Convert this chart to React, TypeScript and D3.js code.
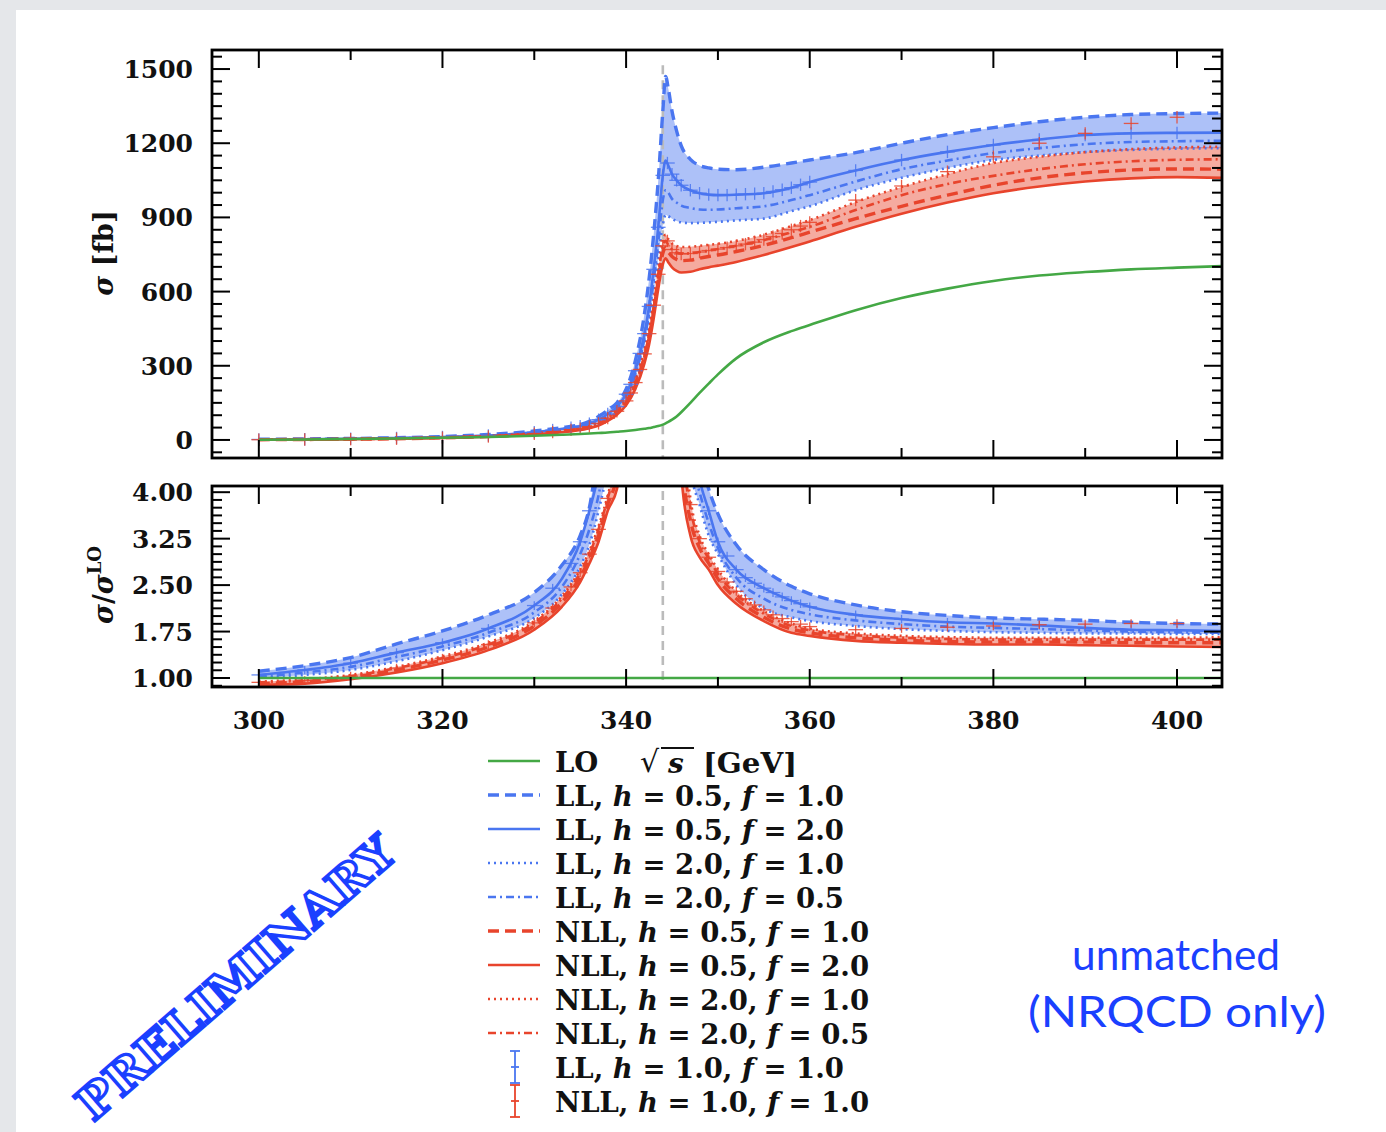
import React from 'react';
import * as d3 from 'd3';

// ---------------- data ----------------
const E = [300, 305, 310, 315, 320, 325, 330, 333, 335, 336, 337, 338, 339, 340, 341, 342, 342.5, 343, 343.5, 344, 344.3, 344.6, 345, 345.5, 346, 347, 348, 349, 350, 352, 355, 358, 360, 365, 370, 375, 380, 385, 390, 395, 400, 405];

const LO = [1, 2, 4, 6, 9, 12, 17, 21, 24, 26, 28, 30, 33, 36, 40, 45, 48, 52, 56, 62, 67, 73, 82, 95, 112, 150, 190, 228, 265, 330, 395, 440, 465, 525, 574, 612, 643, 665, 679, 690, 697, 703];

const LL_h05_f10 = [3, 4, 6, 9, 14, 22, 36, 50, 62, 75, 95, 120, 150, 205, 320, 510, 650, 830, 1050, 1330, 1470, 1420, 1330, 1250, 1190, 1135, 1110, 1100, 1095, 1093, 1103, 1120, 1132, 1162, 1200, 1235, 1263, 1287, 1305, 1316, 1320, 1322];
const LL_h05_f20 = [2, 3, 5, 8, 12, 18, 31, 44, 55, 66, 82, 105, 135, 185, 280, 430, 540, 690, 860, 1070, 1130, 1110, 1075, 1050, 1030, 1010, 998, 992, 990, 992, 998, 1020, 1043, 1090, 1132, 1165, 1193, 1215, 1233, 1240, 1242, 1243];
const LL_h20_f10 = [2, 3, 4, 7, 10, 15, 27, 39, 49, 58, 72, 93, 120, 165, 250, 385, 480, 600, 740, 870, 910, 905, 895, 885, 880, 877, 878, 880, 882, 888, 895, 925, 945, 1010, 1060, 1100, 1132, 1150, 1164, 1173, 1178, 1180];
const LL_h20_f05 = [2, 3, 5, 7, 11, 17, 29, 42, 52, 62, 77, 99, 128, 175, 265, 410, 510, 645, 800, 970, 1010, 1000, 975, 960, 948, 938, 932, 931, 932, 937, 945, 970, 990, 1045, 1095, 1130, 1160, 1180, 1196, 1205, 1208, 1210];

const NLL_h05_f10 = [1, 2, 3, 5, 9, 14, 24, 34, 43, 51, 63, 83, 110, 150, 220, 332, 410, 520, 645, 755, 778, 760, 742, 730, 725, 727, 735, 742, 748, 762, 787, 818, 840, 895, 945, 990, 1030, 1060, 1080, 1092, 1096, 1095];
const NLL_h05_f20 = [1, 1, 3, 5, 8, 13, 22, 31, 40, 47, 58, 77, 102, 140, 205, 310, 385, 490, 610, 710, 735, 718, 698, 684, 677, 680, 690, 698, 705, 720, 748, 780, 803, 862, 915, 960, 998, 1025, 1045, 1058, 1063, 1060];
const NLL_h20_f10 = [1, 2, 4, 6, 10, 16, 27, 38, 48, 56, 70, 92, 122, 165, 240, 360, 440, 560, 690, 810, 830, 812, 795, 785, 780, 781, 785, 789, 793, 805, 830, 865, 889, 962, 1023, 1075, 1120, 1145, 1164, 1176, 1183, 1186];
const NLL_h20_f05 = [1, 2, 3, 6, 9, 15, 25, 36, 45, 53, 66, 87, 116, 157, 230, 345, 425, 540, 668, 782, 805, 788, 770, 758, 753, 755, 760, 766, 772, 785, 808, 840, 862, 930, 990, 1035, 1068, 1095, 1115, 1127, 1133, 1135];

// ratios sigma / sigma^LO (lower panel)
const R_LO = E.map(() => 1);
const R_LL_h05_f10 = [1.11, 1.2, 1.33, 1.55, 1.76, 2.02, 2.38, 2.82, 3.3, 3.75, 4.7, 5.6, 6.8, 8.5, 11, 14, 16, 18, 20, 22, 23, 21, 18, 15, 11, 6, 4.6, 4.05, 3.65, 3.15, 2.75, 2.48, 2.36, 2.18, 2.07, 2.01, 1.97, 1.95, 1.93, 1.9, 1.88, 1.87];
const R_LL_h05_f20 = [1.05, 1.13, 1.24, 1.41, 1.57, 1.8, 2.17, 2.6, 3.2, 3.7, 4.3, 5.2, 6.3, 8, 10, 13, 15, 17, 19, 21, 22, 20, 17, 14, 10, 5, 4.2, 3.7, 3.2, 2.75, 2.45, 2.25, 2.15, 2.02, 1.95, 1.9, 1.88, 1.85, 1.81, 1.78, 1.77, 1.76];
const R_LL_h20_f10 = [1.0, 1.05, 1.13, 1.27, 1.45, 1.67, 1.97, 2.35, 2.8, 3.15, 3.7, 4.4, 5.5, 7, 9, 12, 14, 16, 18, 19, 20, 18, 15, 12, 8, 4.4, 3.8, 3.3, 3.0, 2.5, 2.12, 1.98, 1.92, 1.84, 1.79, 1.76, 1.74, 1.73, 1.72, 1.72, 1.71, 1.71];
const R_LL_h20_f05 = [1.02, 1.09, 1.18, 1.34, 1.51, 1.73, 2.06, 2.47, 3.0, 3.4, 3.95, 4.8, 5.9, 7.5, 9.5, 12.5, 14.5, 16.5, 18.5, 20, 21, 19, 16, 13, 9, 4.6, 4.0, 3.5, 3.1, 2.62, 2.28, 2.1, 2.03, 1.93, 1.87, 1.83, 1.81, 1.79, 1.77, 1.75, 1.74, 1.73];
const R_NLL_h05_f10 = [0.91, 0.94, 1.01, 1.13, 1.29, 1.5, 1.84, 2.22, 2.63, 2.93, 3.3, 3.8, 4.25, 5.3, 7, 9.5, 11, 13, 15, 16, 17, 15, 12, 8, 4.6, 3.55, 3.1, 2.85, 2.6, 2.28, 1.98, 1.79, 1.73, 1.65, 1.61, 1.59, 1.58, 1.58, 1.58, 1.57, 1.57, 1.57];
const R_NLL_h05_f20 = [0.89, 0.91, 0.98, 1.09, 1.24, 1.45, 1.78, 2.15, 2.55, 2.85, 3.2, 3.7, 4.05, 5, 6.5, 9, 10, 12, 14, 15, 16, 14, 11, 7, 4.3, 3.3, 2.95, 2.75, 2.5, 2.2, 1.92, 1.73, 1.68, 1.6, 1.57, 1.55, 1.54, 1.54, 1.53, 1.52, 1.51, 1.5];
const R_NLL_h20_f10 = [0.94, 0.98, 1.05, 1.18, 1.35, 1.57, 1.92, 2.32, 2.75, 3.05, 3.45, 3.95, 4.6, 6, 8, 10, 12, 14, 16, 17, 18, 16, 13, 9, 5.5, 3.9, 3.3, 3.0, 2.75, 2.4, 2.08, 1.88, 1.8, 1.72, 1.68, 1.66, 1.65, 1.65, 1.65, 1.65, 1.65, 1.66];
const R_NLL_h20_f05 = [0.93, 0.96, 1.03, 1.16, 1.32, 1.54, 1.89, 2.28, 2.7, 3.0, 3.4, 3.9, 4.5, 5.7, 7.5, 10, 11.5, 13.5, 15.5, 16.5, 17.5, 15.5, 12.5, 8.5, 5, 3.75, 3.2, 2.93, 2.68, 2.35, 2.04, 1.84, 1.77, 1.69, 1.65, 1.63, 1.62, 1.62, 1.62, 1.62, 1.62, 1.62];

// points with error bars (h = 1.0, f = 1.0)
const CE = [300, 305, 310, 315, 320, 325, 330, 332, 334, 335, 336, 337, 338, 339, 340, 340.5, 341, 341.5, 342, 342.5, 343, 343.5, 344, 344.5, 345, 345.5, 346, 347, 348, 349, 350, 351, 352, 353, 354, 355, 356, 357, 358, 359, 360, 365, 370, 375, 380, 385, 390, 395, 400];
const LL_pts = [2, 3, 5, 8, 12, 18, 31, 40, 50, 56, 66, 82, 105, 135, 185, 225, 280, 350, 430, 540, 690, 860, 1070, 1120, 1075, 1050, 1030, 1010, 998, 992, 990, 990, 992, 994, 996, 998, 1005, 1012, 1020, 1032, 1043, 1090, 1132, 1165, 1193, 1215, 1233, 1240, 1242];
const NLL_pts = [1, 2, 3, 5, 9, 14, 25, 32, 41, 46, 54, 67, 88, 116, 158, 190, 232, 285, 348, 430, 545, 670, 785, 805, 770, 757, 752, 754, 760, 766, 772, 778, 785, 792, 800, 810, 822, 835, 850, 865, 880, 970, 1027, 1085, 1145, 1200, 1240, 1280, 1305];
const R_LL_pts = [1.05, 1.13, 1.24, 1.41, 1.57, 1.8, 2.17, 2.45, 2.85, 3.2, 3.7, 4.3, 5.2, 6.3, 8, 9, 10, 11.5, 13, 15, 17, 19, 21, 22, 17, 14, 10, 5, 4.2, 3.7, 3.2, 2.97, 2.75, 2.62, 2.53, 2.45, 2.38, 2.31, 2.25, 2.2, 2.15, 2.02, 1.95, 1.9, 1.88, 1.85, 1.81, 1.78, 1.77];
const R_NLL_pts = [0.93, 0.96, 1.03, 1.16, 1.32, 1.54, 1.89, 2.13, 2.47, 2.7, 3.0, 3.4, 3.9, 4.5, 5.7, 6.5, 7.5, 9, 10, 11.5, 13.5, 15.5, 16.5, 17, 12.5, 8.5, 5, 3.8, 3.25, 2.95, 2.72, 2.55, 2.4, 2.28, 2.18, 2.1, 2.02, 1.96, 1.91, 1.87, 1.83, 1.78, 1.8, 1.82, 1.84, 1.86, 1.87, 1.88, 1.88];
const ERR_X = 0.8; // GeV
const ERR_Y_TOP = 25; // fb
const ERR_Y_BOT = 0.07;

const THRESHOLD = 344;

// axes
const xMajor = [300, 320, 340, 360, 380, 400];
const xMinor = [310, 330, 350, 370, 390];
const yTopMajor = [0, 300, 600, 900, 1200, 1500];
const yBotMajor = [1.0, 1.75, 2.5, 3.25, 4.0];

// legend
const legendOrder = ['LO', 'LL', 'LL', 'LL', 'LL', 'NLL', 'NLL', 'NLL', 'NLL', 'LL', 'NLL'];
const legendH = ['', '0.5', '0.5', '2.0', '2.0', '0.5', '0.5', '2.0', '2.0', '1.0', '1.0'];
const legendF = ['', '1.0', '2.0', '1.0', '0.5', '1.0', '2.0', '1.0', '0.5', '1.0', '1.0'];
const legendStyle = ['solid', 'dashed', 'solid', 'dotted', 'dashdot', 'dashed', 'solid', 'dotted', 'dashdot', 'err', 'err'];

// ---------------- styling ----------------
const W = 1386, H = 1132;
const PX0 = 212, PX1 = 1222;
const T0 = 50, T1 = 458;
const B0 = 486, B1 = 687;
const BLUE = '#4a76f0';
const RED = '#e8442c';
const GREEN = '#44a845';
const TXT_BLUE = '#1a40ff';
const SERIF = '"DejaVu Serif", serif';

const DASH: Record<string, string | undefined> = {
  solid: undefined,
  dashed: '11,6',
  dotted: '2,4',
  dashdot: '8,4,2,4',
};
const WIDTH: Record<string, number> = { solid: 2.6, dashed: 3.4, dotted: 2.6, dashdot: 2.6 };

export default function App() {
  const x = d3.scaleLinear().domain([294.9, 404.9]).range([PX0, PX1]);
  const yT = d3.scaleLinear().domain([-73, 1577]).range([T1, T0]);
  const yB = d3.scaleLinear().domain([0.855, 4.1]).range([B1, B0]);

  const mkLine = (y: d3.ScaleLinear<number, number>, arr: number[]) =>
    d3.line<number>().x((_, i) => x(E[i])).y((d) => y(d)).curve(d3.curveMonotoneX)(arr) || '';

  const mkBand = (y: d3.ScaleLinear<number, number>, series: number[][]) =>
    d3
      .area<number>()
      .x((i) => x(E[i]))
      .y0((i) => y(d3.min(series, (s) => s[i]) as number))
      .y1((i) => y(d3.max(series, (s) => s[i]) as number))
      .curve(d3.curveMonotoneX)(d3.range(E.length)) || '';

  const LLtop = [LL_h05_f10, LL_h05_f20, LL_h20_f10, LL_h20_f05];
  const NLLtop = [NLL_h05_f10, NLL_h05_f20, NLL_h20_f10, NLL_h20_f05];
  const LLbot = [R_LL_h05_f10, R_LL_h05_f20, R_LL_h20_f10, R_LL_h20_f05];
  const NLLbot = [R_NLL_h05_f10, R_NLL_h05_f20, R_NLL_h20_f10, R_NLL_h20_f05];
  const styles = ['dashed', 'solid', 'dotted', 'dashdot'];

  const panel = (
    id: string,
    y: d3.ScaleLinear<number, number>,
    ll: number[][],
    nll: number[][],
    lo: number[],
    llPts: number[],
    nllPts: number[],
    errY: number,
    vlineTop: number,
    vlineBot: number
  ) => (
    <g clipPath={`url(#${id})`}>
      <path d={mkBand(y, ll)} fill={BLUE} fillOpacity={0.45} />
      <path d={mkBand(y, nll)} fill={RED} fillOpacity={0.45} />
      <line
        x1={x(THRESHOLD)}
        x2={x(THRESHOLD)}
        y1={y(vlineTop)}
        y2={y(vlineBot)}
        stroke="#bbbbbb"
        strokeWidth={2.6}
        strokeDasharray="9,6"
      />
      {ll.map((s, k) => (
        <path
          key={'ll' + k}
          d={mkLine(y, s)}
          fill="none"
          stroke={BLUE}
          strokeWidth={WIDTH[styles[k]]}
          strokeDasharray={DASH[styles[k]]}
        />
      ))}
      {nll.map((s, k) => (
        <path
          key={'nll' + k}
          d={mkLine(y, s)}
          fill="none"
          stroke={RED}
          strokeWidth={WIDTH[styles[k]]}
          strokeDasharray={DASH[styles[k]]}
        />
      ))}
      {llPts.map((v, i) => (
        <g key={'lp' + i} stroke={BLUE} strokeWidth={1.3} strokeOpacity={0.85}>
          <line x1={x(CE[i] - ERR_X)} x2={x(CE[i] + ERR_X)} y1={y(v)} y2={y(v)} />
          <line x1={x(CE[i])} x2={x(CE[i])} y1={y(v - errY)} y2={y(v + errY)} />
        </g>
      ))}
      {nllPts.map((v, i) => (
        <g key={'np' + i} stroke={RED} strokeWidth={1.3} strokeOpacity={0.85}>
          <line x1={x(CE[i] - ERR_X)} x2={x(CE[i] + ERR_X)} y1={y(v)} y2={y(v)} />
          <line x1={x(CE[i])} x2={x(CE[i])} y1={y(v - errY)} y2={y(v + errY)} />
        </g>
      ))}
      <path d={mkLine(y, lo)} fill="none" stroke={GREEN} strokeWidth={2.6} />
    </g>
  );

  const frameTicks = (y: d3.ScaleLinear<number, number>, yMaj: number[], yMin: number[], p0: number, p1: number) => (
    <g stroke="#000" strokeWidth={2}>
      {xMajor.map((v) => (
        <g key={'xM' + v}>
          <line x1={x(v)} x2={x(v)} y1={p1} y2={p1 - 18} />
          <line x1={x(v)} x2={x(v)} y1={p0} y2={p0 + 18} />
        </g>
      ))}
      {xMinor.map((v) => (
        <g key={'xm' + v}>
          <line x1={x(v)} x2={x(v)} y1={p1} y2={p1 - 10} />
          <line x1={x(v)} x2={x(v)} y1={p0} y2={p0 + 10} />
        </g>
      ))}
      {yMaj.map((v) => (
        <g key={'yM' + v}>
          <line x1={PX0} x2={PX0 + 18} y1={y(v)} y2={y(v)} />
          <line x1={PX1} x2={PX1 - 18} y1={y(v)} y2={y(v)} />
        </g>
      ))}
      {yMin.map((v) => (
        <g key={'ym' + v}>
          <line x1={PX0} x2={PX0 + 10} y1={y(v)} y2={y(v)} />
          <line x1={PX1} x2={PX1 - 10} y1={y(v)} y2={y(v)} />
        </g>
      ))}
      <rect x={PX0} y={p0} width={PX1 - PX0} height={p1 - p0} fill="none" strokeWidth={2.8} />
    </g>
  );

  const yTopMinor = d3.range(-50, 1575, 50).filter((v) => v % 300 !== 0);
  const yBotMinor = d3.range(0.875, 4.09, 0.125).filter((v) => !yBotMajor.some((m) => Math.abs(m - v) < 1e-6));

  const legendY0 = 761;
  const legendDY = 34;

  const legendSample = (st: string, color: string, cy: number) => {
    if (st === 'err') {
      return (
        <g stroke={color} strokeWidth={1.8}>
          <line x1={515} x2={515} y1={cy - 16} y2={cy + 16} />
          <line x1={510} x2={520} y1={cy - 16} y2={cy - 16} />
          <line x1={510} x2={520} y1={cy + 16} y2={cy + 16} />
          <line x1={511} x2={519} y1={cy} y2={cy} />
        </g>
      );
    }
    return (
      <line x1={488} x2={540} y1={cy} y2={cy} stroke={color} strokeWidth={WIDTH[st]} strokeDasharray={DASH[st]} />
    );
  };

  return (
    <svg
      width={W}
      height={H}
      style={{ position: 'absolute', left: 0, top: 0, display: 'block' }}
      fontFamily={SERIF}
    >
      <defs>
        <clipPath id="clipTop">
          <rect x={PX0} y={T0} width={PX1 - PX0} height={T1 - T0} />
        </clipPath>
        <clipPath id="clipBot">
          <rect x={PX0} y={B0} width={PX1 - PX0} height={B1 - B0} />
        </clipPath>
      </defs>
      <rect x={0} y={0} width={W} height={H} fill="#e5e7ea" />
      <rect x={16} y={10} width={W - 16} height={H - 10} fill="#ffffff" />

      {panel('clipTop', yT, LLtop, NLLtop, LO, LL_pts, NLL_pts, ERR_Y_TOP, 1515, -73)}
      {panel('clipBot', yB, LLbot, NLLbot, R_LO, R_LL_pts, R_NLL_pts, ERR_Y_BOT, 4.02, 0.86)}

      {frameTicks(yT, yTopMajor, yTopMinor, T0, T1)}
      {frameTicks(yB, yBotMajor, yBotMinor, B0, B1)}

      {/* tick labels */}
      <g fontWeight="bold" fontSize={25} fill="#111">
        {yTopMajor.map((v) => (
          <text key={'lt' + v} x={193} y={yT(v) + 9} textAnchor="end">
            {v}
          </text>
        ))}
        {yBotMajor.map((v) => (
          <text key={'lb' + v} x={193} y={yB(v) + 9} textAnchor="end">
            {v.toFixed(2)}
          </text>
        ))}
        {xMajor.map((v) => (
          <text key={'lx' + v} x={x(v)} y={729} textAnchor="middle">
            {v}
          </text>
        ))}
      </g>

      {/* axis titles */}
      <text transform="translate(113,253) rotate(-90)" textAnchor="middle" fontWeight="bold" fontSize={27} fill="#111">
        <tspan fontStyle="italic">σ</tspan>
        <tspan> [fb]</tspan>
      </text>
      <text transform="translate(113,585) rotate(-90)" textAnchor="middle" fontWeight="bold" fontSize={27} fill="#111">
        <tspan fontStyle="italic">σ</tspan>
        <tspan>/</tspan>
        <tspan fontStyle="italic">σ</tspan>
        <tspan dy={-12} fontSize={18}>LO</tspan>
      </text>

      {/* x title */}
      <g fontWeight="bold" fill="#111">
        <text x={640} y={772} fontSize={30} fontWeight="normal">√</text>
        <line x1={661} x2={694} y1={748} y2={748} stroke="#111" strokeWidth={2} />
        <text x={668} y={773} fontSize={28} fontStyle="italic">s</text>
        <text x={703} y={773} fontSize={28} textLength={94} lengthAdjust="spacingAndGlyphs">[GeV]</text>
      </g>

      {/* legend */}
      <g fontWeight="bold" fontSize={27.5} fill="#111" style={{ whiteSpace: 'pre' }}>
        {legendOrder.map((name, i) => {
          const cy = legendY0 + i * legendDY;
          const color = i === 0 ? GREEN : name === 'LL' ? BLUE : RED;
          return (
            <g key={'lg' + i}>
              {legendSample(legendStyle[i], color, cy)}
              <text x={555} y={cy + 11}>
                {i === 0 ? (
                  <tspan>{name}</tspan>
                ) : (
                  <>
                    <tspan>{name + ', '}</tspan>
                    <tspan fontStyle="italic">h</tspan>
                    <tspan>{' = ' + legendH[i] + ', '}</tspan>
                    <tspan fontStyle="italic">f</tspan>
                    <tspan>{' = ' + legendF[i]}</tspan>
                  </>
                )}
              </text>
            </g>
          );
        })}
      </g>

      {/* annotations */}
      <text
        transform="translate(236,978) rotate(-41)"
        textAnchor="middle"
        dominantBaseline="central"
        fontFamily={SERIF}
        fontWeight="bold"
        fontSize={45}
        fill="#ffffff"
        stroke={TXT_BLUE}
        strokeWidth={3.2}
        textLength={405}
        lengthAdjust="spacingAndGlyphs"
      >
        PRELIMINARY
      </text>
      <g fontFamily="Lato, 'Open Sans', sans-serif" fontSize={42} fill={TXT_BLUE} textAnchor="middle">
        <text x={1176} y={970} textLength={208} lengthAdjust="spacingAndGlyphs">unmatched</text>
        <text x={1177} y={1027} textLength={298} lengthAdjust="spacingAndGlyphs">(NRQCD only)</text>
      </g>
    </svg>
  );
}
